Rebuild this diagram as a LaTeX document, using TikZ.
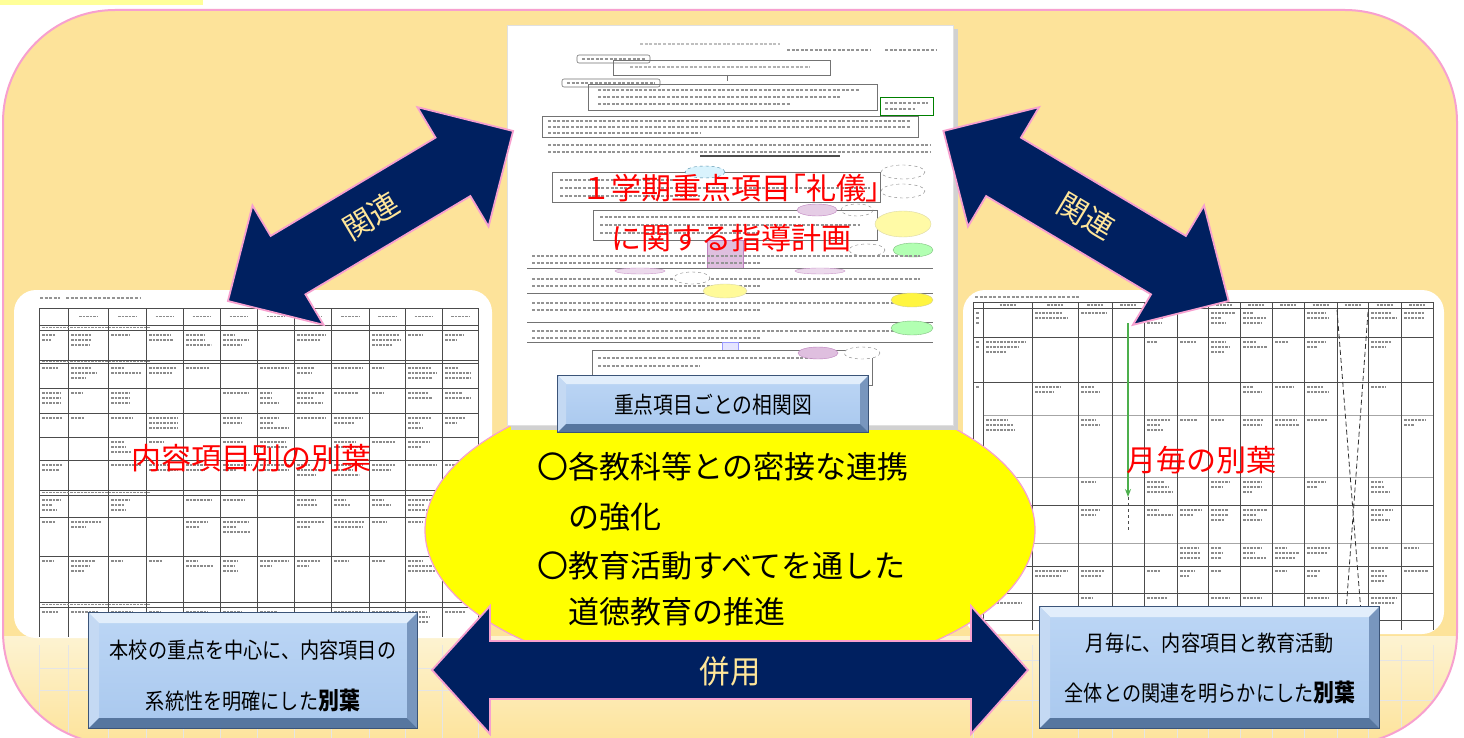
\documentclass[tikz,border=0pt]{standalone}
\usepackage{graphicx}
\usepackage{fontspec}
\setmainfont{Noto Sans CJK JP}
\newfontfamily\jpp[RawFeature=+palt]{Noto Sans CJK JP}
\usetikzlibrary{shapes.geometric,arrows.meta}
\definecolor{bg}{HTML}{FDE39A}
\definecolor{bgl}{HTML}{FDF3D2}
\definecolor{pinkline}{HTML}{F7A0CF}
\definecolor{navy}{HTML}{002060}
\definecolor{ylw}{HTML}{FFFF00}
\definecolor{lbtext}{HTML}{FFE699}
\definecolor{topstrip}{HTML}{FFFF99}
\definecolor{bvface}{HTML}{A9C8EE}
\definecolor{bvfacetop}{HTML}{BCD6F5}
\definecolor{bvtop}{HTML}{E2EEFB}
\definecolor{bvleft}{HTML}{C4D9F3}
\definecolor{bvright}{HTML}{7896BE}
\definecolor{bvbot}{HTML}{56769F}
\definecolor{bvedge}{HTML}{3B5478}
\tikzset{
  tline/.style={draw=black!70, line width=0.7pt},
  tlight/.style={draw=black!35, line width=0.6pt},
  tmark/.style={line width=1.4pt, draw=black!45, dash pattern=on 2.5pt off 1pt},
  dmark/.style={line width=1.8pt, draw=black!42, dash pattern=on 3pt off 1.6pt},
  dbox/.style={draw=black!55, line width=0.6pt},
  navyarrow/.style={fill=navy, draw=pinkline, line width=1.8pt, line join=miter},
  redlbl/.style={text=red, font=\fontsize{30}{36}\selectfont, inner sep=0},
  arrowlbl/.style={text=lbtext, font=\fontsize{30}{36}\selectfont, inner sep=0},
  elltxt/.style={font=\fontsize{31}{36}\selectfont, inner sep=0, anchor=west},
  boxtxt/.style={font=\fontsize{22}{26}\selectfont, inner sep=0},
  panel/.style={fill=white, draw=none, rounded corners=22pt, inner sep=0},
}
\newcommand\cellmarks[4]{%
  \pgfmathtruncatemacro\mkn{min(random(0,3),floor((#4-#3-3)/5))}%
  \ifnum\mkn>0
    \foreach \mkk in {1,...,\mkn}{%
      \pgfmathsetmacro\mklen{max(2,(#2-#1-6)*(0.35+0.6*rnd))}%
      \draw[tmark] ({#1+3},{#3+\mkk*5}) -- ++(\mklen,0);
    }%
  \fi}
\newcommand\bvbox[6]{%
  \node[draw=bvedge, line width=0.8pt, top color=bvfacetop, bottom color=bvface,
        minimum width={#4-#2}, minimum height={#5-#3}, inner sep=0] (#1) at ({(#2+#4)/2},{(#3+#5)/2}) {};
  \fill[bvtop] (#2,#3) -- (#4,#3) -- ({#4-#6},{#3+#6}) -- ({#2+#6},{#3+#6}) -- cycle;
  \fill[bvleft] (#2,#3) -- ({#2+#6},{#3+#6}) -- ({#2+#6},{#5-#6}) -- (#2,#5) -- cycle;
  \fill[bvright] (#4,#3) -- ({#4-#6},{#3+#6}) -- ({#4-#6},{#5-#6}) -- (#4,#5) -- cycle;
  \fill[bvbot] (#2,#5) -- ({#2+#6},{#5-#6}) -- ({#4-#6},{#5-#6}) -- (#4,#5) -- cycle;
  \draw[draw=bvedge, line width=0.9pt] (#1.north west) rectangle (#1.south east);
}
\begin{document}
\begin{tikzpicture}[x=1pt,y=-1pt]
\pgfmathsetseed{42}
\useasboundingbox (0,0) rectangle (1464,738);
\fill[white] (0,0) rectangle (1464,738);
\fill[topstrip] (0,0) rectangle (203,5);
% main background
\fill[bg, rounded corners=112pt] (3,10) rectangle (1457,744);
\begin{scope}
  \clip[rounded corners=112pt] (3,10) rectangle (1457,744);
  \shade[top color=bgl, bottom color=bg] (3,636) rectangle (1457,744);
  \foreach \x in {39,68,108,146,183,220,257,294,331,369,405,442,478,973,1032,1078,1112,1144,1177,1208,1240,1272,1304,1337,1368,1401,1433}
    \draw[black!10, line width=0.6pt] (\x,645) -- (\x,738);
  \draw[black!10, line width=0.6pt] (39,668) -- (478,668) (39,690) -- (478,690) (973,660) -- (1433,660) (973,700) -- (1433,700);
\end{scope}
\draw[pinkline, line width=2pt, rounded corners=112pt] (3,10) rectangle (1457,744);

% ---------- left panel ----------
\node[panel, minimum width=478pt, minimum height=348pt] (lpanel) at (253,464) {};
\draw[dmark] (40,298) -- (60,298) (66,298) -- (140,298);
\foreach \y in {308,325,330,360,363,388,413,437,460,490,495,517,556,602,607}
  \draw[tline] (39,\y) -- (478,\y);
\foreach \x in {39,68,108,146,183,220,257,294,331,369,405,442,478}
  \draw[tline] (\x,308) -- (\x,637);
\foreach \y in {327.5,361.5,492.5,604.5} \draw[tmark] (42,\y) -- (150,\y);
\foreach \xa/\xb in {68/108,108/146,146/183,183/220,220/257,257/294,294/331,331/369,369/405,405/442,442/478}
  \draw[tmark] ({(\xa+\xb)/2-9},316.5) -- ++(18,0);
\foreach \xa/\xb in {39/68,68/108,108/146,146/183,183/220,220/257,257/294,294/331,331/369,369/405,405/442,442/478}
  \foreach \ya/\yb in {330/360,363/388,388/413,413/437,437/460,460/490,495/517,517/556,556/602,607/637}
    \cellmarks{\xa}{\xb}{\ya}{\yb};

% ---------- right panel ----------
\node[panel, minimum width=481pt, minimum height=344pt] (rpanel) at (1203.5,462) {};
\draw[dmark] (975,297) -- (1080,297);
\foreach \y in {302,308,337,382,505,566,593,620}
  \draw[tline] (973,\y) -- (1433,\y);
\foreach \y in {415,477,543}
  \draw[tlight] (983,\y) -- (1433,\y);
\foreach \x in {973,983,1032,1078,1112,1144,1177,1208,1240,1272,1304,1337,1368,1401,1433}
  \draw[tline] (\x,302) -- (\x,630);
\foreach \xa/\xb in {983/1032,1032/1078,1078/1112,1112/1144,1144/1177,1177/1208,1208/1240,1240/1272,1272/1304,1304/1337,1337/1368,1368/1401,1401/1433}
  \draw[tmark] ({(\xa+\xb)/2-8},305) -- ++(16,0);
\foreach \xa/\xb in {973/983,983/1032,1032/1078,1078/1112,1144/1177,1177/1208,1208/1240,1240/1272,1272/1304,1304/1337,1368/1401,1401/1433}
  \foreach \ya/\yb in {308/337,337/382,382/415,415/477,477/505,505/543,543/566,566/593,593/620}
    \cellmarks{\xa}{\xb}{\ya}{\yb};
\coordinate (gA) at (1128,323);
\coordinate (gB) at (1128,497);
\coordinate (gC) at (1128,530);
\draw[green!55!black!70, line width=1.6pt, -{Stealth[open,length=8pt,width=6pt]}] (gA) -- (gB);
\draw[black!70, dashed, line width=0.7pt] (gB) -- (gC);
\coordinate (dA1) at (1337,310); \coordinate (dA2) at (1362,625);
\coordinate (dB1) at (1368,312); \coordinate (dB2) at (1345,625);
\draw[black!80, dash pattern=on 5pt off 3pt, line width=0.8pt] (dA1) -- (dA2) (dB1) -- (dB2);

% red labels on panels
\node[redlbl] (llbl) at (251,458) {内容項目別の別葉};
\node[redlbl] (rlbl) at (1201,460) {月毎の別葉};

% ---------- yellow ellipse ----------
\node[ellipse, fill=ylw, draw=pinkline, line width=1.2pt, minimum width=610pt, minimum height=300pt, inner sep=0] (ell) at (730,530) {};

% ---------- centre document ----------
\fill[black!18] (511,29) rectangle (958,430);
\node[fill=white, draw=black!12, minimum width=446pt, minimum height=400pt, inner sep=0] (doc) at (730,225) {};
\draw[dmark, black!25] (640,44) -- (780,44);
\draw[dmark] (787,50) -- (870,50) (885,50) -- (937,50);
\draw[dbox, rounded corners=2pt] (577,55) rectangle (650,63);
\draw[dmark] (582,59) -- (645,59);
\draw[dbox] (613,60) rectangle (830,75);
\draw[dmark, black!30] (630,67) -- (810,67);
\draw[dbox] (727,75) -- (727,81);
\draw[dbox, rounded corners=2pt] (562,79) rectangle (660,87);
\draw[dmark] (567,83) -- (655,83);
\draw[dbox] (588,84) rectangle (877,110);
\draw[dmark] (598,90) -- (860,90) (598,97) -- (840,97) (598,104) -- (790,104);
\draw[green!50!black, line width=0.8pt] (880,97) rectangle (933,115);
\draw[dmark] (885,103) -- (928,103) (885,109) -- (915,109);
\draw[dbox] (542,116) rectangle (918,137);
\draw[dmark] (548,121) -- (910,121) (548,127) -- (910,127) (548,133) -- (700,133);
\draw[dmark] (548,145) -- (930,145) (548,152) -- (930,152);
\draw[black!70, line width=1.2pt] (700,156) -- (840,156);
\draw[dbox] (552,172) rectangle (880,202);
\draw[dmark] (560,180) -- (690,180) (560,188) -- (870,188) (560,196) -- (700,196);
\draw[cyan!60!black, dashed, fill=cyan!15] (705,172) ellipse [x radius=20, y radius=6];
\draw[black!50, dashed] (903,172) ellipse [x radius=22, y radius=7];
\draw[black!50, dashed] (903,191) ellipse [x radius=22, y radius=7];
\draw[dbox] (593,210) rectangle (877,240);
\draw[dmark] (600,217) -- (800,217) (600,225) -- (860,225) (600,233) -- (760,233);
\draw[violet!50, fill=violet!20] (817,210) ellipse [x radius=20, y radius=6];
\draw[black!50, dashed] (857,210) ellipse [x radius=16, y radius=6];
\draw[yellow!60!black!40, fill=yellow!35] (903,224) ellipse [x radius=28, y radius=13];
\draw[violet!50, fill=violet!25] (707,240) rectangle (743,268);
\draw[black!50, dashed] (867,250) ellipse [x radius=18, y radius=6];
\draw[green!50!black!50, fill=green!30] (913,250) ellipse [x radius=20, y radius=7];
\foreach \ya/\yb in {250/268,273/293,297/322,325/342} {
  \draw[dbox] (527,\yb) -- (933,\yb);
  \draw[dmark] (532,{\ya+6}) -- (920,{\ya+6});
  \draw[dmark] (532,{\ya+13}) -- (760,{\ya+13});
}
\draw[violet!40, fill=violet!15] (640,271) ellipse [x radius=25, y radius=3];
\draw[violet!40, fill=violet!15] (820,271) ellipse [x radius=25, y radius=3];
\draw[black!50, dashed, fill=white] (692,278) ellipse [x radius=18, y radius=6];
\draw[yellow!60!black!40, fill=yellow!40] (725,291) ellipse [x radius=22, y radius=7];
\draw[yellow!60!black!50, fill=yellow!75] (912,300) ellipse [x radius=21, y radius=7];
\draw[green!50!black!50, fill=green!30] (912,328) ellipse [x radius=21, y radius=7];
\draw[blue!40, fill=blue!10] (722,342) rectangle (738,350);
\draw[dbox] (592,350) rectangle (872,385);
\draw[dmark] (598,358) -- (820,358) (598,366) -- (700,366);
\draw[violet!50, fill=violet!25] (818,353) ellipse [x radius=20, y radius=6];
\draw[black!50, dashed, fill=white] (862,353) ellipse [x radius=18, y radius=6];
\draw[dbox] (872,360) -- (872,385);
% title on the document
\node[text=red, align=center, inner sep=0, font=\fontsize{30}{50}\selectfont] (ttl) at (731,213)
  {１学期重点項目{\jpp「}礼儀{\jpp」}\\に関する指導計画};

% ---------- centre blue box ----------
\bvbox{cbox}{558}{376}{868}{432}{8}
\node[boxtxt, font=\fontsize{23}{26}\selectfont] (ctxt) at (713,405) {\scalebox{0.86}[1]{重点項目ごとの相関図}};

% ellipse texts
\node[elltxt] (e1) at (537,467) {〇各教科等との密接な連携};
\node[elltxt] (e2) at (568,517) {の強化};
\node[elltxt] (e3) at (537,566) {〇教育活動すべてを通した};
\node[elltxt] (e4) at (568,612) {道徳教育の推進};

% ---------- diagonal arrows ----------
\begin{scope}[shift={(370.5,216)}, rotate=30.8]
  \filldraw[navyarrow] (-166,0) -- (-96,-69.5) -- (-96,-34) -- (96,-34) -- (96,-69.5) -- (166,0)
    -- (96,69.5) -- (96,34) -- (-96,34) -- (-96,69.5) -- cycle;
\end{scope}
\node[arrowlbl, rotate=30.8] (kl) at (371,216) {関連};
\begin{scope}[shift={(1086,216)}, rotate=-30.8]
  \filldraw[navyarrow] (-166,0) -- (-96,-69.5) -- (-96,-34) -- (96,-34) -- (96,-69.5) -- (166,0)
    -- (96,69.5) -- (96,34) -- (-96,34) -- (-96,69.5) -- cycle;
\end{scope}
\node[arrowlbl, rotate=-30.8] (kr) at (1086,216) {関連};

% ---------- horizontal arrow ----------
\filldraw[navyarrow] (432,670) -- (490,606) -- (490,641) -- (971,641) -- (971,606) -- (1028,670)
  -- (971,734) -- (971,699) -- (490,699) -- (490,734) -- cycle;
\node[arrowlbl, font=\fontsize{32}{36}\selectfont] (hy) at (730,671) {\scalebox{0.95}[1]{併用}};

% ---------- bottom boxes ----------
\bvbox{lbox}{89}{613}{417}{728}{10}
\node[boxtxt] (lb1) at (253,650) {\scalebox{0.87}[1]{本校の重点を中心に、内容項目の}};
\node[boxtxt] (lb2) at (253,700) {\scalebox{0.87}[1]{系統性を明確にした{\bfseries\fontsize{24}{26}\selectfont 別葉}}};
\bvbox{rbox}{1040}{607}{1379}{728}{10}
\node[boxtxt] (rb1) at (1210,643) {\scalebox{0.87}[1]{月毎に、内容項目と教育活動}};
\node[boxtxt] (rb2) at (1210,692) {\scalebox{0.87}[1]{全体との関連を明らかにした{\bfseries\fontsize{24}{26}\selectfont 別葉}}};
\end{tikzpicture}
\end{document}
